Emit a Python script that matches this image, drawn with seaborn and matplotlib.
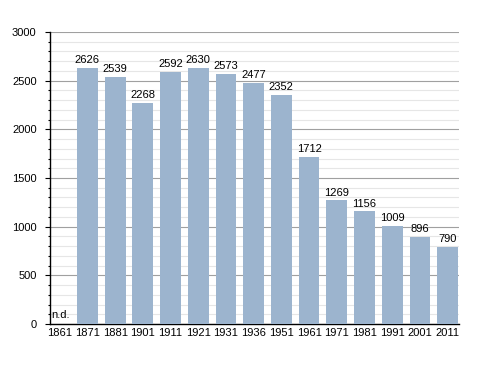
import matplotlib
matplotlib.use("Agg")
import matplotlib.pyplot as plt
import seaborn as sns
import pandas as pd
from matplotlib.ticker import MultipleLocator

# dati del censimento
anni = ["1861", "1871", "1881", "1901", "1911", "1921", "1931", "1936",
        "1951", "1961", "1971", "1981", "1991", "2001", "2011"]
abitanti = [None, 2626, 2539, 2268, 2592, 2630, 2573, 2477,
            2352, 1712, 1269, 1156, 1009, 896, 790]

df = pd.DataFrame({"anno": anni, "abitanti": abitanti})

sns.set_style("white")
plt.rcParams["font.family"] = ["Liberation Sans", "DejaVu Sans"]
plt.rcParams["text.color"] = "black"
plt.rcParams["xtick.color"] = "black"
plt.rcParams["ytick.color"] = "black"

fig = plt.figure(figsize=(4.88, 3.73), dpi=100)
ax = fig.add_axes([0.1025, 0.1314, 0.838, 0.7828])

sns.barplot(data=df, x="anno", y="abitanti", color="#9cb4ce", width=0.75,
            saturation=1, edgecolor="none", linewidth=0, ax=ax, zorder=3)

# etichette sopra le barre
for i, v in enumerate(abitanti):
    if v is None:
        ax.text(i - 0.3, 40, "n.d.", ha="left", va="bottom", fontsize=8)
    else:
        ax.text(i, v + 30, str(v), ha="center", va="bottom", fontsize=8)

ax.set_ylim(0, 3000)
ax.set_xlim(-0.35, 14.41)
ax.yaxis.set_major_locator(MultipleLocator(500))
ax.yaxis.set_minor_locator(MultipleLocator(100))
ax.grid(axis="y", which="major", color="#a0a0a0", linewidth=0.8, zorder=0)
ax.grid(axis="y", which="minor", color="#e6e6e6", linewidth=0.8, zorder=0)
ax.set_axisbelow(True)

for s in ["top", "right"]:
    ax.spines[s].set_visible(False)
ax.spines["left"].set_color("black")
ax.spines["bottom"].set_color("black")
ax.spines["left"].set_linewidth(1)
ax.spines["bottom"].set_linewidth(1)

ax.tick_params(axis="y", which="major", left=True, length=3.6, width=0.8,
               labelsize=8, pad=6)
ax.tick_params(axis="y", which="minor", left=True, length=1.8, width=0.8)
ax.tick_params(axis="x", bottom=False, length=0, labelsize=8, pad=3)
ax.set_xlabel("")
ax.set_ylabel("")

fig.savefig("out.png", dpi=100)
